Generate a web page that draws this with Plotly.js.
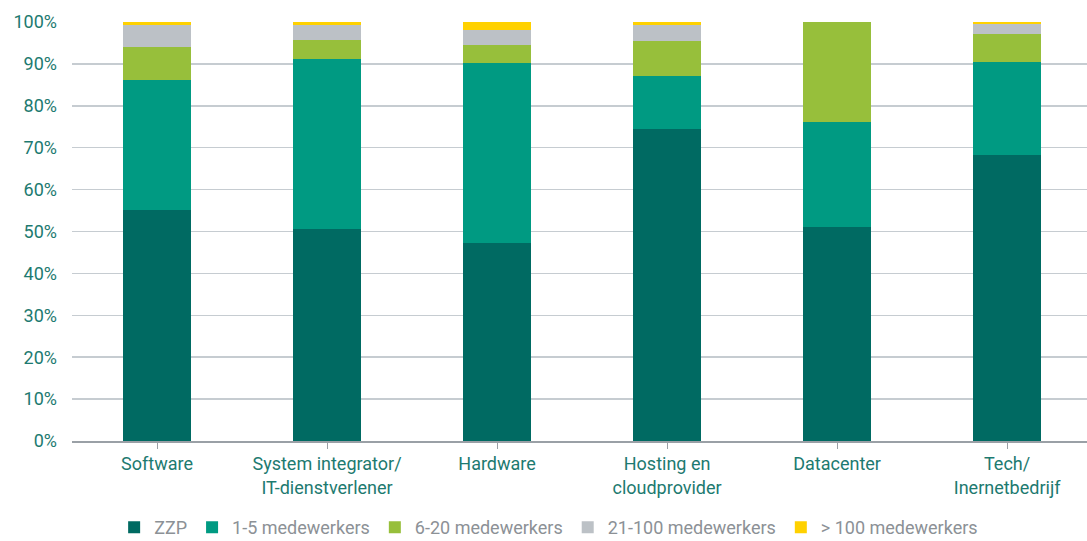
<!DOCTYPE html>
<html><head><meta charset="utf-8">
<script src="https://cdn.plot.ly/plotly-3.0.1.min.js"></script>
<style>body{margin:0;padding:0;background:#fff}#chart{width:1087px;height:541px}</style>
</head><body><div id="chart"></div>
<script>
const categories = ["Software", "System integrator/<br>IT-dienstverlener", "Hardware", "Hosting en<br>cloudprovider", "Datacenter", "Tech/<br>Inernetbedrijf"];
const seriesNames = ["ZZP", "1-5 medewerkers", "6-20 medewerkers", "21-100 medewerkers", "> 100 medewerkers"];
const zzp      = [55.1, 50.6, 47.3, 74.5, 51.1, 68.3];
const m1_5     = [31.1, 40.6, 42.8, 12.6, 25.0, 22.2];
const m6_20    = [7.9, 4.6, 4.5, 8.4, 23.9, 6.6];
const m21_100  = [5.1, 3.4, 3.4, 3.7, 0, 2.4];
const m100plus = [0.8, 0.8, 2.0, 0.8, 0, 0.5];
const colors = ["#006a62", "#009a82", "#97bf3b", "#bcc1c6", "#ffd100"];
const yTicks = [0,10,20,30,40,50,60,70,80,90,100];
const yTickText = yTicks.map(v => v + "%");

const font = "Roboto, sans-serif";
const values = [zzp, m1_5, m6_20, m21_100, m100plus];
const traces = values.map((v, i) => ({
  type: "bar", name: seriesNames[i], x: categories.map((c, j) => j), y: v,
  marker: {color: colors[i], line: {width: 0}}, hoverinfo: "y+name"
}));

const layout = {
  width: 1087, height: 541,
  margin: {l: 72, r: 0, t: 22, b: 100, autoexpand: false},
  barmode: "stack", bargap: 0.6,
  paper_bgcolor: "#fff", plot_bgcolor: "#fff",
  font: {family: font, size: 18, color: "#1d7a70"},
  xaxis: {
    range: [-0.5, 5.47], tickmode: "array", tickvals: [0,1,2,3,4,5], ticktext: categories,
    tickson: "boundaries", ticks: "outside", ticklen: 6, tickcolor: "#9aa0a6",
    showline: true, linecolor: "#9aa0a6", linewidth: 1.5, showgrid: false,
    automargin: false,
    tickfont: {family: font, size: 18, color: "#1d7a70"}
  },
  yaxis: {
    range: [0, 100], tickmode: "array", tickvals: yTicks, ticktext: yTickText,
    showgrid: true, gridcolor: "#c6ccd1", gridwidth: 1.5, zeroline: false,
    ticks: "", ticklabelstandoff: 14, automargin: false,
    tickfont: {family: font, size: 18, color: "#1d7a70"}
  },
  showlegend: true,
  legend: {
    orientation: "h", x: 0.0, xref: "container", xanchor: "left", x: 0.105,
    y: 0.025, yref: "container", yanchor: "middle",
    font: {family: font, size: 18, color: "#8c9196"}, traceorder: "normal"
  }
};
Plotly.newPlot("chart", traces, layout, {displayModeBar: false, staticPlot: true});
</script></body></html>
